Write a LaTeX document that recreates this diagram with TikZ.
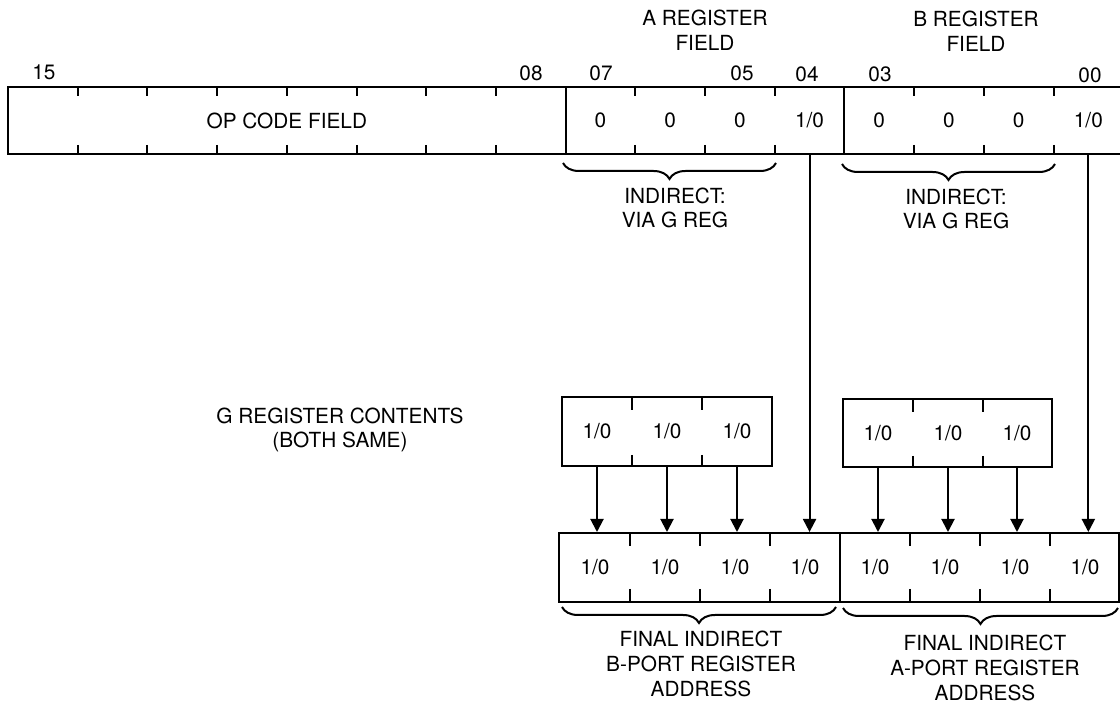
\documentclass[tikz,border=0pt]{standalone}
\usepackage{fontspec}
\setmainfont{TeX Gyre Heros}
\usetikzlibrary{arrows.meta,decorations.pathreplacing}
\begin{document}
\begin{tikzpicture}[x=0.5pt,y=-0.5pt,line width=1pt,
  font=\fontsize{10.4}{12.3}\selectfont,
  cell/.style={minimum width=34.85pt,minimum height=33.5pt,inner sep=0pt},
  gcell/.style={minimum width=35pt,minimum height=34.5pt,inner sep=0pt},
  fcell/.style={minimum width=35pt,minimum height=34.5pt,inner sep=0pt},
  lbl/.style={inner sep=0pt,align=center},
  bracedown/.style={decorate,decoration={brace,mirror,amplitude=8pt,aspect=0.5}},
  arr/.style={-{Triangle[width=6.5pt,length=6.5pt]}}]
\useasboundingbox (0,0) rectangle (1120,704);

% ---------- top register ----------
\node[cell,minimum width=278.8pt] (op) at (286.8,120.5) {OP CODE FIELD};
\node[cell] (t7) at (600.45,120.5) {0};
\node[cell] (t6) at (670.15,120.5) {0};
\node[cell] (t5) at (739.85,120.5) {0};
\node[cell] (t4) at (809.55,120.5) {1/0};
\node[cell] (t3) at (879.25,120.5) {0};
\node[cell] (t2) at (948.95,120.5) {0};
\node[cell] (t1) at (1018.65,120.5) {0};
\node[cell] (t0) at (1088.35,120.5) {1/0};
\draw (8,87) rectangle (1123.2,154);
\draw (565.6,87) -- (565.6,154);
\draw (844.4,87) -- (844.4,154);
\foreach \i in {1,...,7,9,10,11,13,14,15}{
  \draw (8+69.7*\i,87) -- (8+69.7*\i,96);
  \draw (8+69.7*\i,145) -- (8+69.7*\i,154);
}
% bit numbers
\node[lbl] (n15) at (44,72) {15};
\node[lbl] (n08) at (531,73) {08};
\node[lbl] (n07) at (601,73) {07};
\node[lbl] (n05) at (742,73) {05};
\node[lbl] (n04) at (807,74) {04};
\node[lbl] (n03) at (880,74) {03};
\node[lbl] (n00) at (1090,75) {00};
% field titles
\node[lbl] (afield) at (705,30) {A REGISTER\\FIELD};
\node[lbl] (bfield) at (976,31) {B REGISTER\\FIELD};
% braces
\coordinate (ab1) at (563,163);
\coordinate (ab2) at (776,163);
\coordinate (bb1) at (842,164);
\coordinate (bb2) at (1055,164);
\draw[bracedown] (ab1) -- (ab2);
\draw[bracedown] (bb1) -- (bb2);
\node[lbl] (aind) at (675,208) {INDIRECT:\\VIA G REG};
\node[lbl] (bind) at (956,209) {INDIRECT:\\VIA G REG};

% ---------- G registers ----------
\node[gcell] (ga1) at (597,431.5) {1/0};
\node[gcell] (ga2) at (667,431.5) {1/0};
\node[gcell] (ga3) at (737,431.5) {1/0};
\draw (562,397) rectangle (772,466);
\foreach \x in {632,702}{
  \draw (\x,397) -- (\x,410);
  \draw (\x,455) -- (\x,466);
}
\node[gcell] (gb1) at (878,433) {1/0};
\node[gcell] (gb2) at (948,433) {1/0};
\node[gcell] (gb3) at (1017,433) {1/0};
\draw (843,399) rectangle (1052,467);
\foreach \x in {913,983}{
  \draw (\x,399) -- (\x,412);
  \draw (\x,456) -- (\x,467);
}
\node[lbl] (gtext) at (340,430) {G REGISTER CONTENTS\\(BOTH SAME)};

% ---------- final register ----------
\node[fcell] (f1) at (595,567.5) {1/0};
\node[fcell] (f2) at (665,567.5) {1/0};
\node[fcell] (f3) at (735,567.5) {1/0};
\node[fcell] (f4) at (805,567.5) {1/0};
\node[fcell] (f5) at (875,567.5) {1/0};
\node[fcell] (f6) at (945,567.5) {1/0};
\node[fcell] (f7) at (1015,567.5) {1/0};
\node[fcell] (f8) at (1085,567.5) {1/0};
\draw (559,533) rectangle (1119,602);
\draw (840,533) -- (840,602);
\foreach \x in {630,700,770,910,980,1050}{
  \draw (\x,533) -- (\x,546);
  \draw (\x,589) -- (\x,602);
}
\coordinate (fb1) at (562,607);
\coordinate (fb2) at (836,607);
\coordinate (fb3) at (843,608);
\coordinate (fb4) at (1118,608);
\draw[bracedown] (fb1) -- (fb2);
\draw[bracedown] (fb3) -- (fb4);
\node[lbl] (bport) at (701,664) {FINAL INDIRECT\\B-PORT REGISTER\\ADDRESS};
\node[lbl] (aport) at (985,668) {FINAL INDIRECT\\A-PORT REGISTER\\ADDRESS};

% ---------- connectors ----------
\draw[arr] (ga1.south) -- (ga1.south |- f1.north);
\draw[arr] (ga2.south) -- (ga2.south |- f2.north);
\draw[arr] (ga3.south) -- (ga3.south |- f3.north);
\draw[arr] (t4.south) -- (t4.south |- f4.north);
\draw[arr] (gb1.south) -- (gb1.south |- f5.north);
\draw[arr] (gb2.south) -- (gb2.south |- f6.north);
\draw[arr] (gb3.south) -- (gb3.south |- f7.north);
\draw[arr] (t0.south) -- (t0.south |- f8.north);
\end{tikzpicture}
\end{document}
